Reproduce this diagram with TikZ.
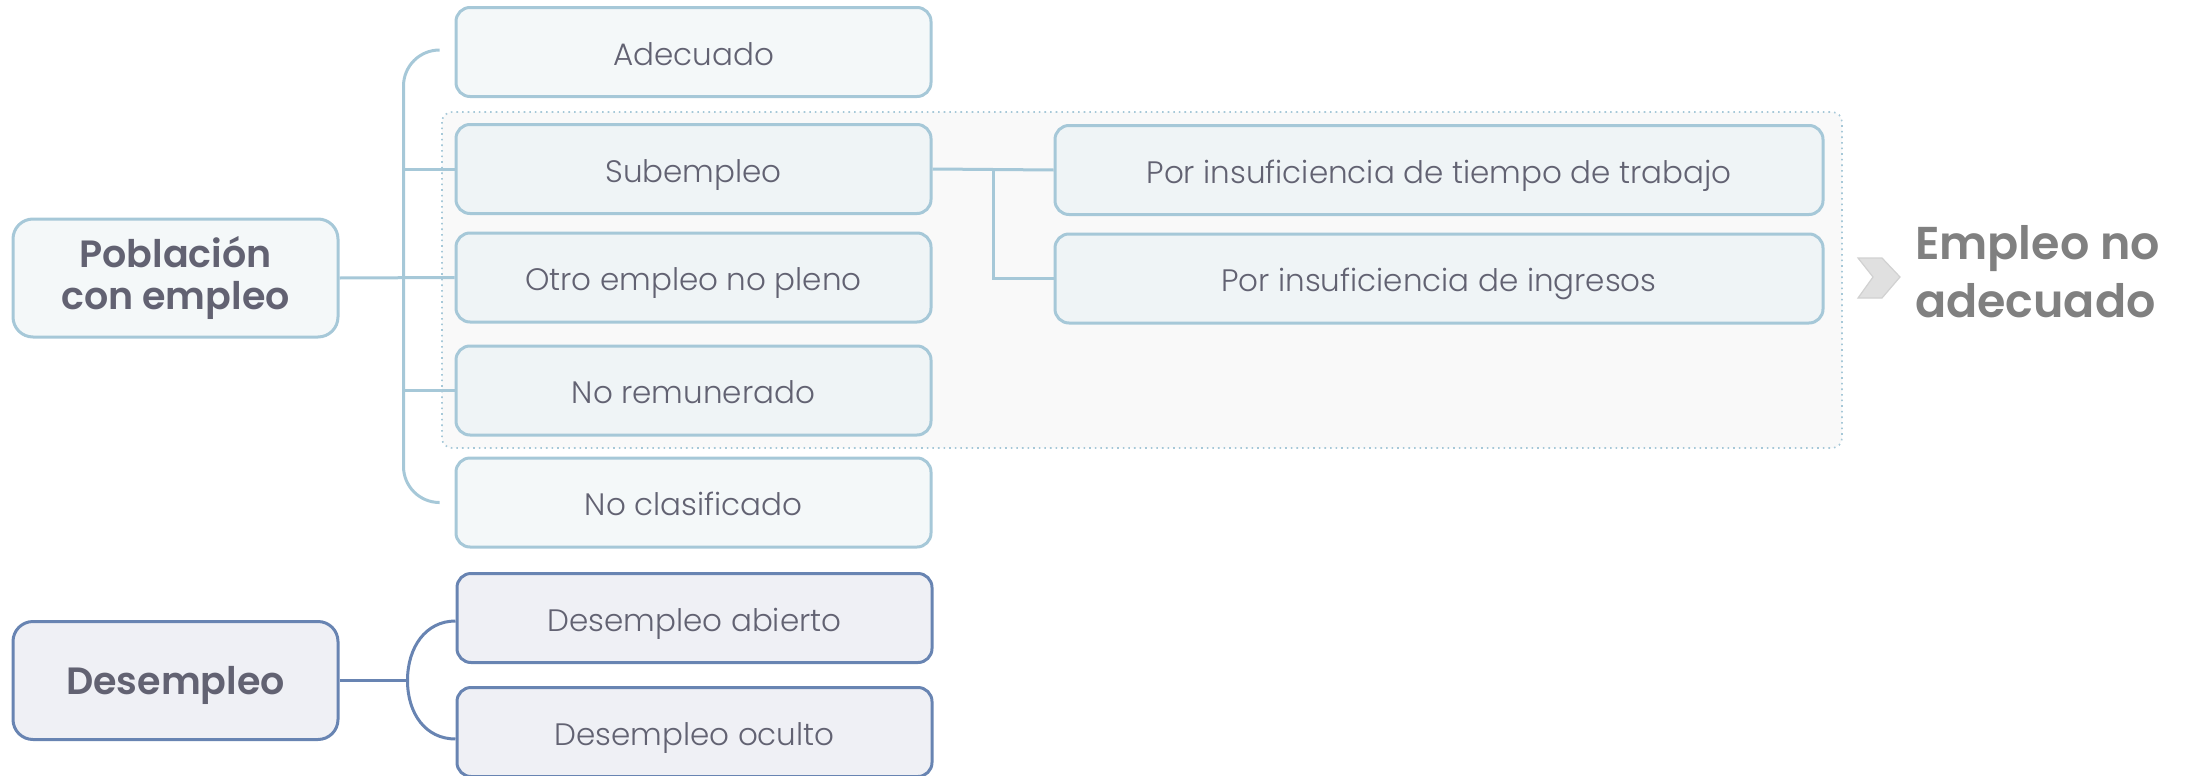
\documentclass[tikz,border=0pt]{standalone}
\usepackage{fontspec}
\setmainfont{Poppins}[UprightFont=* Light, BoldFont=* SemiBold]
\usetikzlibrary{calc}

\definecolor{blueline}{RGB}{166,200,216}
\definecolor{boxfill}{RGB}{244,248,249}
\definecolor{grpboxfill}{RGB}{239,244,246}
\definecolor{grpfill}{RGB}{249,249,249}
\definecolor{navyline}{RGB}{104,132,178}
\definecolor{navyfill}{RGB}{239,240,245}
\definecolor{txtgray}{RGB}{98,98,114}
\definecolor{headgray}{RGB}{128,128,128}

\tikzset{
  catbox/.style={draw=blueline, line width=1.5pt, rounded corners=7pt, fill=boxfill,
    minimum width=237.5pt, minimum height=44.5pt, text=txtgray,
    text height=13pt, text depth=0pt,
    font=\fontsize{15.5}{18}\selectfont},
  subbox/.style={catbox, fill=grpboxfill},
  widebox/.style={subbox, minimum width=384pt},
  mainbox/.style={catbox, rounded corners=10pt, minimum width=162.5pt, minimum height=59pt,
    text height=, text depth=, align=center, font=\fontsize{19}{21}\selectfont\bfseries},
  dbox/.style={catbox, draw=navyline, fill=navyfill},
  dmain/.style={mainbox, draw=navyline, fill=navyfill, text height=13.5pt, text depth=0pt},
  bline/.style={draw=blueline, line width=1.5pt},
  nline/.style={draw=navyline, line width=1.5pt},
}

\begin{document}
\begin{tikzpicture}[x=0.5pt,y=-0.5pt]
\useasboundingbox (0,0) rectangle (2190,776);

% group of non adequate employment
\draw [draw=blueline, fill=grpfill, line width=0.8pt, dotted, rounded corners=5pt] (442,112) rectangle (1842,448);

% main categories
\node [mainbox] (pob) at (175.5,278) {Población\\con empleo};
\node [dmain] (desem) at (175.5,680.5) {Desempleo};

% employed column
\node [catbox] (ade) at (693.5,52) {Adecuado};
\node [subbox] (sub) at (693.5,169) {Subempleo};
\node [subbox] (otro) at (693.5,277.5) {Otro empleo no pleno};
\node [subbox] (norem) at (693.5,390.5) {No remunerado};
\node [catbox] (noclas) at (693.5,502.5) {No clasificado};

% subempleo split
\node [widebox] (tiempo) at (1439,170) {Por insuficiencia de tiempo de trabajo};
\node [widebox] (ingresos) at (1439,278.5) {Por insuficiencia de ingresos};

% unemployed column
\node [dbox] (dab) at (694.5,618) {Desempleo abierto};
\node [dbox] (doc) at (694.5,732) {Desempleo oculto};

% chevron and label
\draw [draw=black!18, fill=black!12, line width=0.6pt] (1858,258) -- (1882,258) -- (1900,277) -- (1882,298) -- (1858,298) -- (1873,277) -- cycle;
\node [anchor=west, align=left, text=headgray, font=\fontsize{23}{29}\selectfont\bfseries] (lbl) at (1908,272) {Empleo no\\adecuado};

% bracket of employed
\coordinate (spine) at ($(pob.east)+(64,0)$);
\draw [bline, rounded corners=18pt] ([xshift=-8pt,yshift=1pt]ade.west) -| (spine |- noclas.west) -- ([xshift=-8pt]noclas.west);
\draw [bline] (pob.east) -- (otro.west);
\draw [bline] (spine |- sub.west) -- (sub.west);
\draw [bline] (spine |- norem.west) -- (norem.west);

% subempleo fork
\coordinate (fork) at ($(sub.east)!0.5!(tiempo.west)$);
\draw [bline] (sub.east) -- (tiempo.west);
\draw [bline] (fork) |- (ingresos.west);

% bracket of unemployed
\coordinate (dfork) at ($(desem.east)+(68,0)$);
\draw [nline] ([yshift=-1.5pt]dab.west) .. controls ++(-30,0) and ($(dfork)+(0,-33)$) .. (dfork)
  .. controls ($(dfork)+(0,33)$) and ($(doc.west)+(-30,7)$) .. ([yshift=-3.5pt]doc.west);
\draw [nline] (desem.east) -- (dfork);

\end{tikzpicture}
\end{document}
